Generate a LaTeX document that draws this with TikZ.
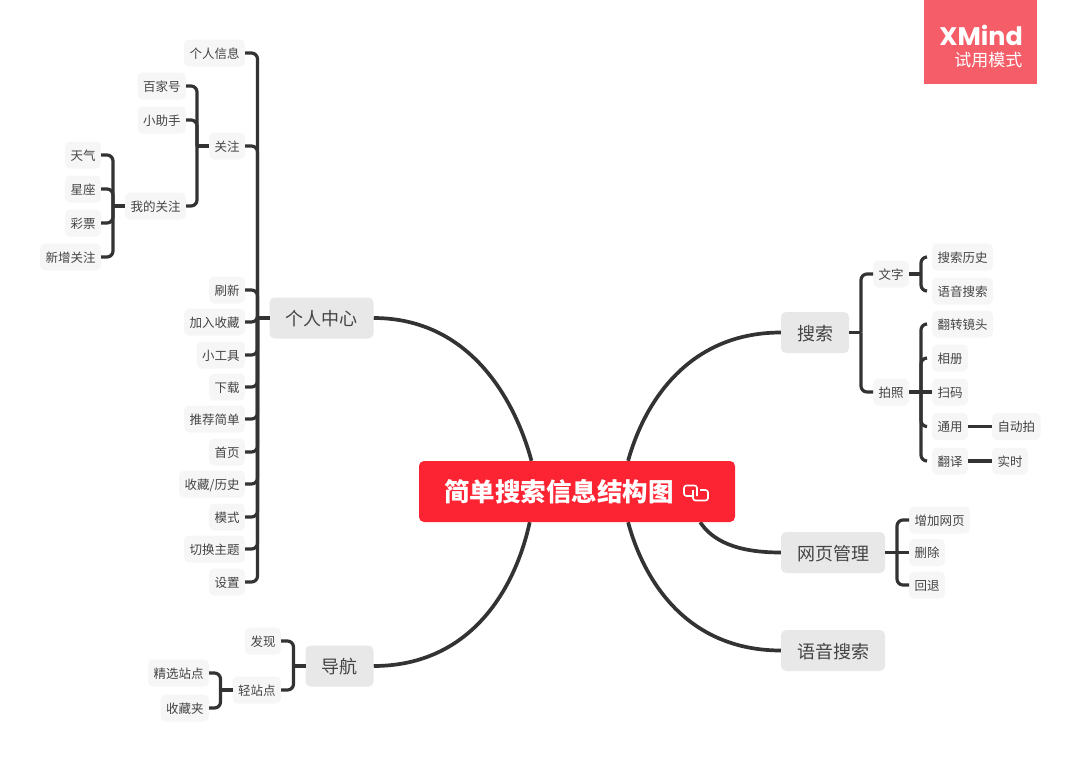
\documentclass[tikz,border=0pt]{standalone}
\usepackage{fontspec}
\setmainfont{Noto Sans CJK SC}
\newfontfamily\badgefont{Poppins}
\usepackage{xcolor}
\definecolor{rootred}{HTML}{FC2433}
\definecolor{badgered}{HTML}{F55D68}
\definecolor{linegray}{HTML}{333333}
\definecolor{inkgray}{HTML}{444444}
\usetikzlibrary{backgrounds}

\begin{document}
\begin{tikzpicture}[x=1pt, y=-1pt, line join=round,
    rootnode/.style={fill=rootred, rounded corners=5pt, text=white, minimum width=316pt, minimum height=61pt, inner sep=0pt, font=\fontsize{25.5}{30}\selectfont\bfseries},
    mainnode/.style={fill=black!9, rounded corners=5pt, text=inkgray, minimum height=41pt, inner xsep=16pt, inner ysep=0pt, outer sep=0pt, text height=16.5pt, text depth=1.5pt, font=\fontsize{18}{22}\selectfont},
    subnode/.style={fill=black!3.5, rounded corners=5pt, text=inkgray, minimum height=27pt, inner xsep=5.5pt, inner ysep=0pt, outer sep=0pt, text height=11.5pt, text depth=1pt, font=\fontsize{12.5}{15}\selectfont},
    stem/.style={draw=linegray, line width=3.2pt},
    link/.style={draw=linegray, line width=3.2pt, rounded corners=6pt},
    curve/.style={draw=linegray, line width=3.7pt}]
  \useasboundingbox (0,0) rectangle (1080,761);
  % centre and main topics
  \node[rootnode] (Root) at (577,491.5) {\hspace*{-36pt}简单搜索信息结构图};
  \node[mainnode] (Geren) at (321.5,318) {个人中心};
  \node[mainnode] (Daohang) at (339.5,666) {导航};
  \node[mainnode] (Sousuo) at (815,332.5) {搜索};
  \node[mainnode] (Wangye) at (833,552.5) {网页管理};
  \node[mainnode] (Yuyin) at (833,650.5) {语音搜索};
  % link icon
  \draw[white,line width=1.6pt,rounded corners=2.5pt] (692,496) -- (684,496) -- (684,485.5) -- (697,485.5) -- (697,496);
  \draw[white,line width=1.6pt,rounded corners=2.5pt] (700,490) -- (708,490) -- (708,500.5) -- (693,500.5) -- (693,490);
  % left side
  \node[subnode,anchor=east] (G1) at (245,53) {个人信息};
  \node[subnode,anchor=east] (G2) at (245,146) {关注};
  \node[subnode,anchor=east] (G3) at (245,290) {刷新};
  \node[subnode,anchor=east] (G4) at (245,322) {加入收藏};
  \node[subnode,anchor=east] (G5) at (245,355) {小工具};
  \node[subnode,anchor=east] (G6) at (245,387) {下载};
  \node[subnode,anchor=east] (G7) at (245,419) {推荐简单};
  \node[subnode,anchor=east] (G8) at (245,452) {首页};
  \node[subnode,anchor=east] (G9) at (245,484) {收藏/历史};
  \node[subnode,anchor=east] (G10) at (245,517) {模式};
  \node[subnode,anchor=east] (G11) at (245,549) {切换主题};
  \node[subnode,anchor=east] (G12) at (245,582) {设置};
  \node[subnode,anchor=east] (F1) at (186,86) {百家号};
  \node[subnode,anchor=east] (F2) at (186,120) {小助手};
  \node[subnode,anchor=east] (F3) at (186,206) {我的关注};
  \node[subnode,anchor=east] (H1) at (101,155) {天气};
  \node[subnode,anchor=east] (H2) at (101,189) {星座};
  \node[subnode,anchor=east] (H3) at (101,223) {彩票};
  \node[subnode,anchor=east] (H4) at (101,257) {新增关注};
  \node[subnode,anchor=east] (D1) at (281,641) {发现};
  \node[subnode,anchor=east] (D2) at (281,690) {轻站点};
  \node[subnode,anchor=east] (L1) at (209,673) {精选站点};
  \node[subnode,anchor=east] (L2) at (209,708) {收藏夹};
  % right side
  \node[subnode,anchor=west] (S1) at (873,274) {文字};
  \node[subnode,anchor=west] (S2) at (873,392) {拍照};
  \node[subnode,anchor=west] (T1) at (932,257) {搜索历史};
  \node[subnode,anchor=west] (T2) at (932,291) {语音搜索};
  \node[subnode,anchor=west] (P1) at (932,324) {翻转镜头};
  \node[subnode,anchor=west] (P2) at (932,358) {相册};
  \node[subnode,anchor=west] (P3) at (932,392) {扫码};
  \node[subnode,anchor=west] (P4) at (932,426.5) {通用};
  \node[subnode,anchor=west] (P5) at (932,461) {翻译};
  \node[subnode,anchor=west] (Q1) at (992,426.5) {自动拍};
  \node[subnode,anchor=west] (Q2) at (992,461) {实时};
  \node[subnode,anchor=west] (W1) at (909,520) {增加网页};
  \node[subnode,anchor=west] (W2) at (909,552.5) {删除};
  \node[subnode,anchor=west] (W3) at (909,585) {回退};
  % badge
  \node[fill=badgered,minimum width=113pt,minimum height=84pt,inner sep=0pt] (Badge) at (980.5,42) {};
  \node[text=white,anchor=east,inner sep=0pt,font=\badgefont\bfseries\fontsize{25.4}{28}\selectfont] (BadgeA) at (1023,35) {XMind};
  \node[text=white,anchor=east,inner sep=0pt,font=\fontsize{17}{20}\selectfont] (BadgeB) at (1022.5,60.5) {试用模式};
  % curved links
  \begin{scope}[on background layer]
    \draw[curve] (Geren.east) .. controls (470,318) and (515,400) .. (Root.146.5);
    \draw[curve] (Daohang.east) .. controls (470,666) and (515,590) .. (Root.213.5);
    \draw[curve] (Sousuo.west) .. controls (690,332.5) and (645,400) .. (Root.31);
    \draw[curve] (Wangye.west) .. controls (735,552.5) and (712,540) .. (Root.-14);
    \draw[curve] (Yuyin.west) .. controls (690,650.5) and (645,585) .. (Root.329);
  \end{scope}
  % brackets
  \draw[stem] (Geren.west) -- ++(-12,0) coordinate (GBus);
  \draw[link] (GBus) |- (G1.east);
  \draw[link] (GBus) |- (G2.east);
  \draw[link] (GBus) |- (G3.east);
  \draw[link] (GBus) |- (G4.east);
  \draw[link] (GBus) |- (G5.east);
  \draw[link] (GBus) |- (G6.east);
  \draw[link] (GBus) |- (G7.east);
  \draw[link] (GBus) |- (G8.east);
  \draw[link] (GBus) |- (G9.east);
  \draw[link] (GBus) |- (G10.east);
  \draw[link] (GBus) |- (G11.east);
  \draw[link] (GBus) |- (G12.east);
  \draw[stem] (G2.west) -- ++(-12,0) coordinate (FBus);
  \draw[link] (FBus) |- (F1.east);
  \draw[link] (FBus) |- (F2.east);
  \draw[link] (FBus) |- (F3.east);
  \draw[stem] (F3.west) -- ++(-12,0) coordinate (HBus);
  \draw[link] (HBus) |- (H1.east);
  \draw[link] (HBus) |- (H2.east);
  \draw[link] (HBus) |- (H3.east);
  \draw[link] (HBus) |- (H4.east);
  \draw[stem] (Daohang.west) -- ++(-12,0) coordinate (DBus);
  \draw[link] (DBus) |- (D1.east);
  \draw[link] (DBus) |- (D2.east);
  \draw[stem] (D2.west) -- ++(-12,0) coordinate (LBus);
  \draw[link] (LBus) |- (L1.east);
  \draw[link] (LBus) |- (L2.east);
  \draw[stem] (Sousuo.east) -- ++(12,0) coordinate (SBus);
  \draw[link] (SBus) |- (S1.west);
  \draw[link] (SBus) |- (S2.west);
  \draw[stem] (S1.east) -- ++(12,0) coordinate (TBus);
  \draw[link,shorten >=5pt] (TBus) |- (T1.west);
  \draw[link,shorten >=5pt] (TBus) |- (T2.west);
  \draw[stem] (S2.east) -- (P3.west);
  \path (S2.east) -- ++(12,0) coordinate (PBus);
  \draw[link,shorten >=5pt] (PBus) |- (P1.west);
  \draw[link,shorten >=5pt] (PBus) |- (P2.west);
  \draw[link,shorten >=5pt] (PBus) |- (P4.west);
  \draw[link,shorten >=5pt] (PBus) |- (P5.west);
  \draw[stem] (P4.east) -- (Q1.west);
  \draw[stem] (P5.east) -- (Q2.west);
  \draw[stem] (Wangye.east) -- (W2.west);
  \path (Wangye.east) -- ++(12,0) coordinate (WBus);
  \draw[link] (WBus) |- (W1.west);
  \draw[link] (WBus) |- (W3.west);
\end{tikzpicture}
\end{document}
